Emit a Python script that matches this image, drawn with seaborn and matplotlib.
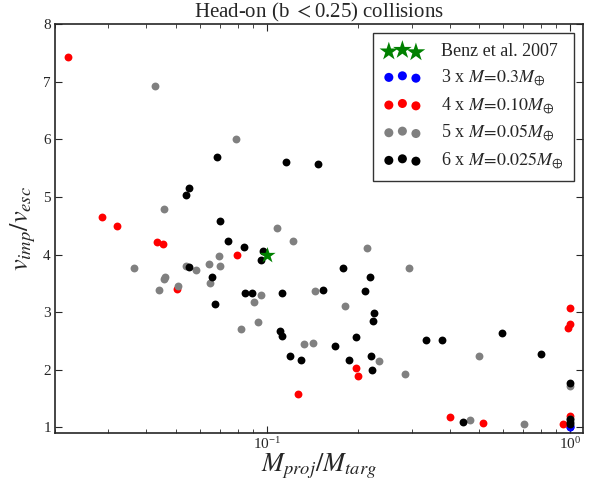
import matplotlib
matplotlib.use("Agg")
import matplotlib.pyplot as plt
import seaborn as sns
import pandas as pd

# Benz et al. 2007
benz_x = [0.1]
benz_y = [4.0]

# 3 x M=0.3
blue_x = [1.0, 1.0, 1.0]
blue_y = [1.00, 1.01, 1.02]

# 4 x M=0.10
red_x = [0.0221, 0.0285, 0.0320, 0.0434, 0.0455, 0.0798, 0.0506, 0.1267, 0.197,
         0.199, 0.401, 0.514, 0.947, 1.0, 1.0, 0.985, 1.0]
red_y = [7.43, 4.66, 4.49, 4.21, 4.19, 4.00, 3.40, 1.57, 2.03,
         1.89, 1.17, 1.08, 1.06, 3.07, 2.80, 2.73, 1.20]

# 5 x M=0.05
gray_x = [0.0428, 0.0791, 0.0456, 0.0364, 0.0440, 0.0542, 0.0583, 0.0459, 0.0462,
          0.0508, 0.0642, 0.0651, 0.0696, 0.0702, 0.108, 0.122, 0.0821, 0.0908,
          0.0953, 0.0936, 0.1445, 0.132, 0.1417, 0.181, 0.214, 0.234, 0.294,
          0.286, 0.500, 0.467, 0.703, 1.0, 1.0]
gray_y = [6.92, 6.01, 4.80, 3.77, 3.39, 3.80, 3.73, 3.58, 3.61,
          3.46, 3.83, 3.50, 3.97, 3.80, 4.46, 4.24, 2.70, 3.17,
          3.29, 2.82, 3.37, 2.44, 2.47, 3.11, 4.11, 2.15, 3.76,
          1.92, 2.24, 1.12, 1.06, 1.71, 1.15]

# 6 x M=0.025
black_x = [0.0682, 0.0555, 0.0539, 0.0698, 0.1155, 0.147, 0.0742, 0.0840, 0.0973,
           0.0958, 0.0555, 0.0659, 0.0676, 0.0847, 0.0895, 0.112, 0.1525, 0.110,
           0.112, 0.119, 0.1295, 0.1675, 0.1775, 0.186, 0.196, 0.210, 0.219,
           0.2254, 0.223, 0.221, 0.222, 0.334, 0.377, 0.444, 0.594, 0.798,
           1.0, 1.0, 1.0, 1.0]
black_y = [5.69, 5.16, 5.03, 4.59, 5.61, 5.58, 4.24, 4.13, 4.06,
           3.90, 3.79, 3.61, 3.14, 3.33, 3.34, 3.34, 3.39, 2.68,
           2.59, 2.24, 2.17, 2.41, 3.77, 2.16, 2.57, 3.36, 3.61,
           2.99, 2.85, 2.24, 1.99, 2.52, 2.52, 1.09, 2.64, 2.28,
           1.77, 1.15, 1.10, 1.06]

labels = ["Benz et al. 2007",
          r"3 x $M\!=\!0.3M_{\oplus}$",
          r"4 x $M\!=\!0.10M_{\oplus}$",
          r"5 x $M\!=\!0.05M_{\oplus}$",
          r"6 x $M\!=\!0.025M_{\oplus}$"]

sns.set_style("ticks")
plt.rcParams['font.family'] = ['Liberation Serif', 'DejaVu Serif']
plt.rcParams['mathtext.fontset'] = 'stix'
plt.rcParams['xtick.direction'] = 'in'
plt.rcParams['ytick.direction'] = 'in'
plt.rcParams['xtick.top'] = True
plt.rcParams['ytick.right'] = True

fig, ax = plt.subplots(figsize=(6.04, 4.86), dpi=100)
fig.subplots_adjust(left=0.091, right=0.965, top=0.950, bottom=0.109)

dot = dict(s=32, linewidth=0, ax=ax)
series = [(blue_x, blue_y, "#0000ff", labels[1]),
          (red_x, red_y, "#ff0000", labels[2]),
          (gray_x, gray_y, "#808080", labels[3]),
          (black_x, black_y, "#000000", labels[4])]
for xs, ys, col, lab in series:
    df = pd.DataFrame({"x": xs, "y": ys})
    sns.scatterplot(data=df, x="x", y="y", color=col, label=lab, legend=False, **dot)
dfb = pd.DataFrame({"x": benz_x, "y": benz_y})
sns.scatterplot(data=dfb, x="x", y="y", color="#008000", marker="*", s=150,
                linewidth=0, label=labels[0], legend=False, ax=ax)

ax.set_xscale("log")
ax.set_xlim(0.02, 1.1)
ax.set_ylim(0.9, 8)
ax.set_yticks([1, 2, 3, 4, 5, 6, 7, 8])
ax.tick_params(which="major", length=5, width=0.8, labelsize=11)
ax.tick_params(axis="x", which="major", pad=2)
ax.tick_params(axis="y", which="major", pad=3)
ax.tick_params(which="minor", length=3, width=0.6)
for sp in ax.spines.values():
    sp.set_linewidth(1.2)

ax.set_xlabel(r"$M_{proj}/M_{targ}$", fontsize=19, labelpad=0)
ax.set_ylabel(r"$v_{imp}/v_{esc}$", fontsize=19)
ax.set_title(r"Head-on (b $<$0.25) collisions", fontsize=15, pad=1.5)

h, l = ax.get_legend_handles_labels()
order = [l.index(lab) for lab in labels]
leg = ax.legend([h[i] for i in order], [l[i] for i in order], loc="upper right",
                scatterpoints=3, scatteryoffsets=[0.375, 0.5, 0.3125],
                fontsize=13, frameon=True, fancybox=False, edgecolor="black",
                borderaxespad=0.5, borderpad=0.55, handlelength=2.1,
                handletextpad=1.1, labelspacing=0.42, markerscale=1.15)
leg.get_frame().set_linewidth(1.0)

fig.savefig("out.png", dpi=100)
